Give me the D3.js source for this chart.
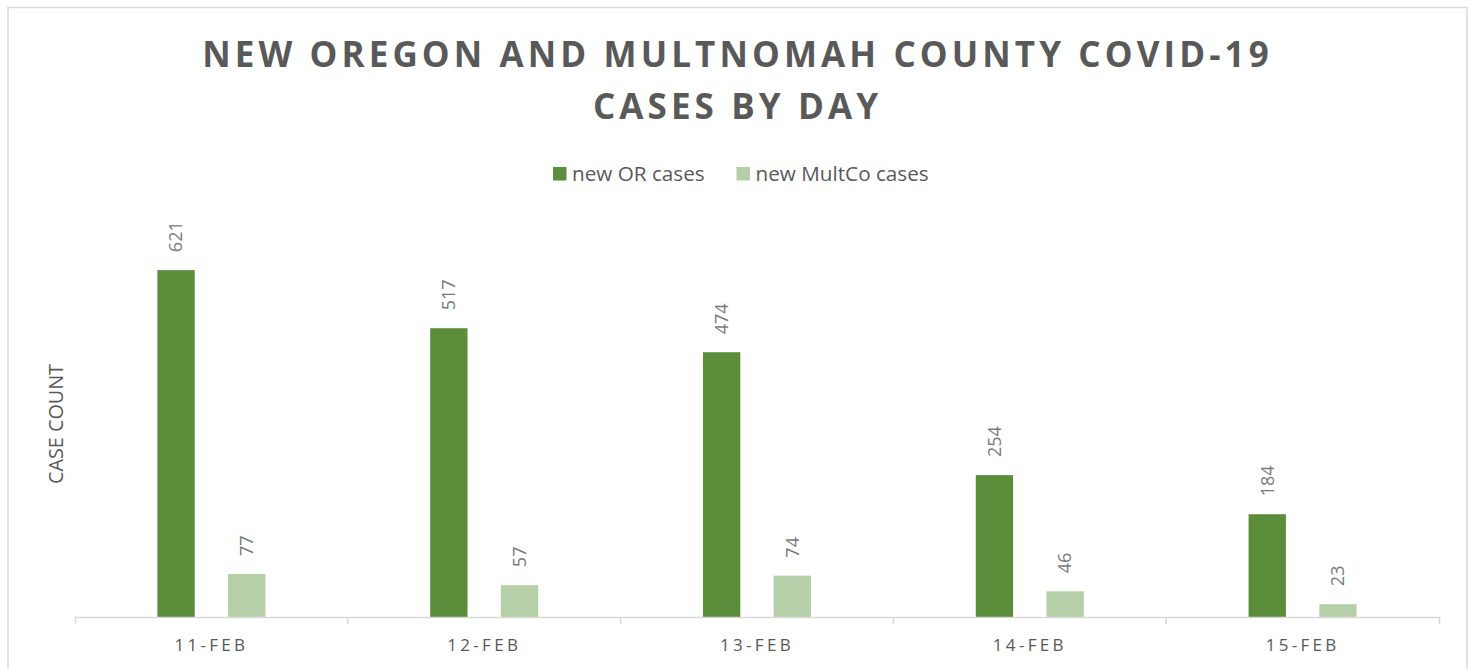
<!DOCTYPE html>
<html>
<head>
<meta charset="utf-8">
<script src="https://cdn.jsdelivr.net/npm/d3@7"></script>
<style>
  body { margin: 0; background: #fff; }
  svg { display: block; }
</style>
</head>
<body>
<div id="chart"></div>
<script>
// chart data
const days = ["11-FEB", "12-FEB", "13-FEB", "14-FEB", "15-FEB"];
const seriesNames = ["new OR cases", "new MultCo cases"];
const orCases = [621, 517, 474, 254, 184];
const multCoCases = [77, 57, 74, 46, 23];
const colors = ["#5b8d3a", "#b5d0a8"];

const W = 1468, H = 669;
const plotLeft = 75, plotRight = 1439, plotTop = 226, plotBase = 617;

let svg = d3.select("#chart")
    .append("svg")
    .attr("width", W)
    .attr("height", H);

// outer frame
svg.append("rect")
    .attr("x", 8).attr("y", 7.5)
    .attr("width", 1459).attr("height", 700)
    .attr("fill", "none")
    .attr("stroke", "#d9d9d9")
    .attr("stroke-width", 1.5);

// title
let title = svg.append("text")
    .attr("text-anchor", "middle")
    .attr("font-family", "Open Sans")
    .attr("font-weight", "bold")
    .attr("font-size", "35px")
    .attr("letter-spacing", "4.1px")
    .attr("fill", "#595959");
title.append("tspan").attr("x", 737.5).attr("y", 67).text("NEW OREGON AND MULTNOMAH COUNTY COVID-19");
title.append("tspan").attr("x", 737.5).attr("y", 119).text("CASES BY DAY");

// legend
let legendX = [553, 736.5];
seriesNames.forEach(function(name, i) {
    svg.append("rect")
        .attr("x", legendX[i]).attr("y", 167)
        .attr("width", 13.5).attr("height", 13.5)
        .attr("fill", colors[i]);
    svg.append("text")
        .attr("x", legendX[i] + 19).attr("y", 181)
        .attr("font-family", "Open Sans")
        .attr("font-size", "20.7px")
        .attr("fill", "#595959")
        .text(name);
});

// y axis title
svg.append("text")
    .attr("transform", "translate(63,424) rotate(-90)")
    .attr("text-anchor", "middle")
    .attr("font-family", "Open Sans")
    .attr("font-size", "19.8px")
    .attr("fill", "#595959")
    .text("CASE COUNT");

// scales
let x0 = d3.scaleBand()
    .domain(days)
    .range([plotLeft, plotRight])
    .padding(0);
let x1 = d3.scaleBand()
    .domain(seriesNames)
    .range([0, x0.bandwidth()])
    .paddingInner(0.472)
    .paddingOuter(1.165);
let y = d3.scaleLinear()
    .domain([0, 700])
    .range([plotBase, plotTop]);

let rows = days.map(function(d, i) {
    return { day: d, values: [orCases[i], multCoCases[i]] };
});

let groups = svg.selectAll(".grp")
    .data(rows)
    .enter()
    .append("g")
    .attr("class", "grp")
    .attr("transform", function(d) { return "translate(" + x0(d.day) + ",0)"; });

groups.selectAll("rect")
    .data(function(d) { return d.values.map(function(v, i) { return { key: seriesNames[i], value: v, idx: i }; }); })
    .enter()
    .append("rect")
    .attr("x", function(d) { return x1(d.key); })
    .attr("y", function(d) { return y(d.value); })
    .attr("width", x1.bandwidth())
    .attr("height", function(d) { return plotBase - y(d.value); })
    .attr("fill", function(d) { return colors[d.idx]; });

// value labels, rotated
groups.selectAll("text")
    .data(function(d) { return d.values.map(function(v, i) { return { key: seriesNames[i], value: v }; }); })
    .enter()
    .append("text")
    .attr("transform", function(d) {
        return "translate(" + (x1(d.key) + x1.bandwidth() / 2) + "," + (y(d.value) - 18) + ") rotate(-90)";
    })
    .attr("dy", "0.35em")
    .attr("text-anchor", "start")
    .attr("font-family", "Open Sans")
    .attr("font-size", "18px")
    .attr("fill", "#7a7a7a")
    .text(function(d) { return d.value; });

// x axis
let xAxis = svg.append("g")
    .attr("transform", "translate(0," + plotBase + ")")
    .call(d3.axisBottom(x0).tickSize(0).tickSizeOuter(7).tickPadding(21.5));
xAxis.select(".domain")
    .attr("stroke", "#d9d9d9")
    .attr("stroke-width", 1.5);
xAxis.selectAll("text")
    .attr("font-family", "Open Sans")
    .attr("font-size", "17px")
    .attr("letter-spacing", "3.3px")
    .attr("fill", "#595959");

// category boundary ticks
xAxis.selectAll(".sep")
    .data(days.slice(1))
    .enter()
    .append("line")
    .attr("class", "sep")
    .attr("x1", function(d) { return x0(d); })
    .attr("x2", function(d) { return x0(d); })
    .attr("y1", 0)
    .attr("y2", 7)
    .attr("stroke", "#d9d9d9")
    .attr("stroke-width", 1.5);
</script>
</body>
</html>
